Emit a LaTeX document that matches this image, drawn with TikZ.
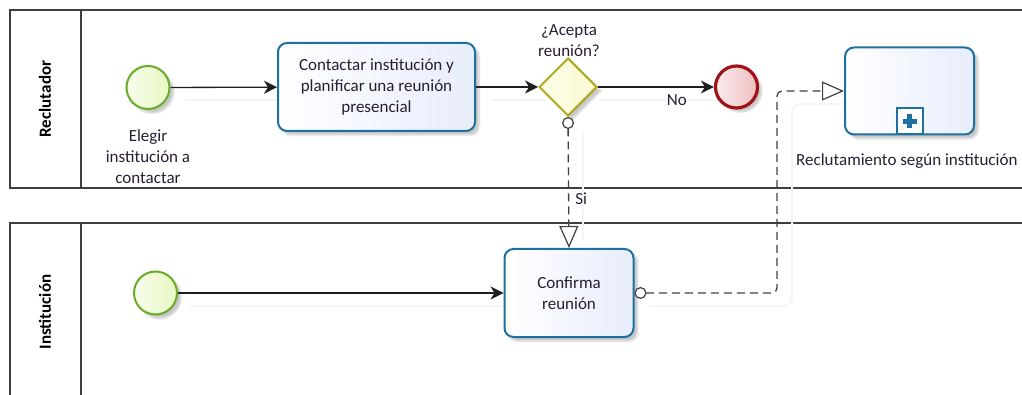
\documentclass[tikz,border=0pt]{standalone}
\usepackage{fontspec}
\setmainfont{Carlito}
\usetikzlibrary{arrows.meta,shapes.geometric,shadows.blur}

\definecolor{taskline}{RGB}{30,112,160}
\definecolor{taskfill}{RGB}{232,237,252}
\definecolor{startline}{RGB}{104,172,42}
\definecolor{startfill}{RGB}{232,248,196}
\definecolor{endline}{RGB}{158,18,24}
\definecolor{endfill}{RGB}{238,190,192}
\definecolor{gateline}{RGB}{172,170,34}
\definecolor{gatefill}{RGB}{250,250,212}
\definecolor{poolline}{RGB}{62,62,62}
\definecolor{flowline}{RGB}{30,30,30}
\definecolor{txt}{RGB}{40,30,50}

\tikzset{
  x=1pt, y=-1pt,
  lbl/.style={font=\fontsize{17}{21}\selectfont, text=txt, align=center, inner sep=0pt},
  poolname/.style={font=\fontsize{17}{21}\selectfont\bfseries, text=black, rotate=90},
  pool/.style={draw=poolline, line width=1.4pt},
  nshadow/.style={blur shadow={shadow xshift=4pt, shadow yshift=-4pt,
      shadow blur steps=6, shadow opacity=22}},
  task/.style={rectangle, rounded corners=9pt, draw=taskline, line width=2pt,
      left color=white, right color=taskfill, nshadow,
      font=\fontsize{17}{21}\selectfont, text=txt, align=center, inner sep=2pt},
  startev/.style={circle, minimum size=43pt, inner sep=0pt, draw=startline,
      line width=2pt, left color=startfill!35!white, right color=startfill, nshadow},
  endev/.style={circle, minimum size=42pt, inner sep=0pt, draw=endline,
      line width=3.2pt, left color=endfill!30!white, right color=endfill, nshadow},
  gateway/.style={diamond, minimum width=58pt, minimum height=58pt, inner sep=0pt,
      draw=gateline, line width=2pt, left color=gatefill!50!white,
      right color=gatefill, nshadow},
  seqflow/.style={draw=flowline, line width=1.3pt,
      -{Stealth[length=13pt, width=13pt, inset=4pt]}},
  msgflow/.style={draw=flowline!85, line width=1.3pt, dash pattern=on 8pt off 5pt,
      {Circle[open, length=12pt, width=12pt, line width=1.2pt, fill=white]}-{Triangle[open, length=22pt, width=19pt, line width=1.2pt, fill=white]}},
  cshadow/.style={draw=black!4, line width=2pt},
}

\begin{document}
\begin{tikzpicture}
\useasboundingbox (0,0) rectangle (1022,395);

% pools and lanes
\draw[pool] (1040,10) -- (10,10) -- (10,188) -- (1040,188);
\draw[pool] (81,10) -- (81,188);
\draw[pool] (1040,223) -- (10,223) -- (10,400);
\draw[pool] (81,223) -- (81,400);
\node[poolname] (poolA) at (45,99) {Reclutador};
\node[poolname] (poolB) at (45,312) {Institución};

% faint connector shadows
\coordinate (s1sh) at (185,100);
\coordinate (t1sh) at (290,100);
\draw[cshadow] (s1sh) -- (t1sh);
\coordinate (gsh1) at (490,100);
\coordinate (gsh2) at (545,100);
\draw[cshadow] (gsh1) -- (gsh2);
\coordinate (esh1) at (600,100);
\coordinate (esh2) at (720,100);
\draw[cshadow] (esh1) -- (esh2);
\coordinate (vsh1) at (583,130);
\coordinate (vsh2) at (583,240);
\draw[cshadow] (vsh1) -- (vsh2);
\coordinate (s2sh) at (190,306);
\coordinate (c2sh) at (510,306);
\draw[cshadow] (s2sh) -- (c2sh);
\coordinate (msh1) at (650,306);
\coordinate (msh2) at (792,306);
\coordinate (msh3) at (792,104);
\coordinate (msh4) at (845,104);
\draw[cshadow, rounded corners=8pt] (msh1) -- (msh2) -- (msh3) -- (msh4);

% nodes of the recruiter lane
\node[startev] (s1) at (148,87.5) {};
\node[lbl] (s1lbl) at (148,157) {Elegir\\institución a\\contactar};
\node[task, minimum width=197pt, minimum height=88pt] (t1) at (376.5,87)
  {Contactar institución y\\planificar una reunión\\presencial};
\node[gateway] (g) at (568,87) {};
\node[lbl] (glbl) at (569,41) {¿Acepta\\reunión?};
\node[endev] (e) at (736.5,87) {};
\node[task, minimum width=129pt, minimum height=87pt] (sp) at (909.5,91) {};
\node[lbl, anchor=west] (splbl) at (796,161) {Reclutamiento según institución};

% collapsed sub-process marker
\node[draw=taskline, line width=2pt, fill=white, minimum size=26pt, inner sep=0pt,
      anchor=south] (mk) at (sp.south) {};
\draw[taskline, line width=4.5pt] ([yshift=-7pt]mk.center) -- ([yshift=7pt]mk.center);
\draw[taskline, line width=4.5pt] ([xshift=-7pt]mk.center) -- ([xshift=7pt]mk.center);

% nodes of the institution lane
\node[startev] (s2) at (155.5,293) {};
\node[task, minimum width=129pt, minimum height=88pt] (c) at (569,293)
  {Confirma\\reunión};

% sequence flows
\draw[seqflow] (s1) -- (t1);
\draw[seqflow] (t1) -- (g);
\draw[seqflow] (g) -- node[lbl, pos=0.68, below=7pt] (nolbl) {No} (e);
\draw[seqflow] (s2) -- (c);

% message flows
\draw[msgflow] (g.south) -- node[lbl, pos=0.62, right=6pt] (silbl) {Si} (c.north);
\coordinate (bend) at (777,91);
\draw[msgflow, rounded corners=5pt] (c.east) -| (bend) -- (sp.west);
\end{tikzpicture}
\end{document}
